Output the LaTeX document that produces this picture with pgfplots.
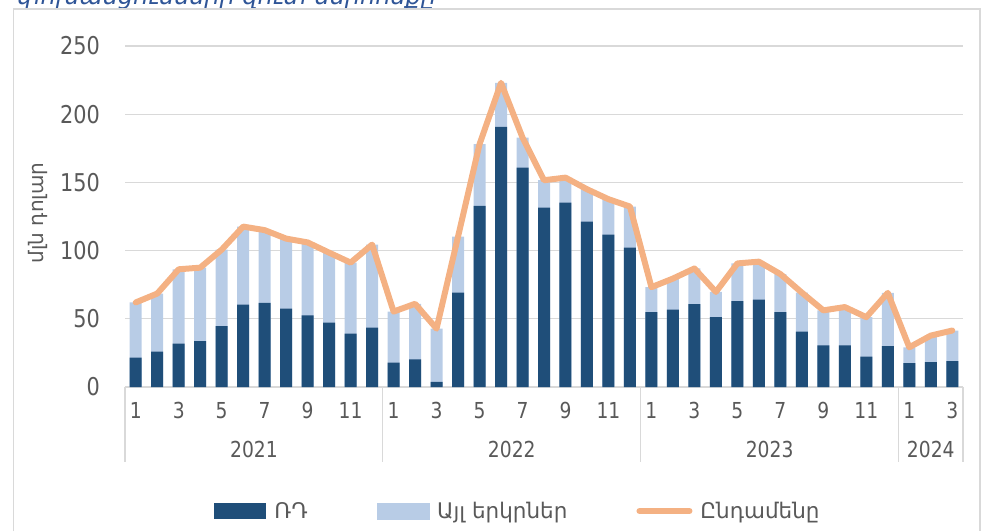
\documentclass[border=0pt]{standalone}
\usepackage{fontspec}
\setmainfont{DejaVu Sans}[FakeStretch=0.85]
\newfontfamily\legfont{DejaVu Sans}
\usepackage{pgfplots}
\usepackage{pgfplotstable}
\pgfplotsset{compat=1.18}
\definecolor{rdblue}{HTML}{1F4E79}
\definecolor{othblue}{HTML}{B8CCE6}
\definecolor{totorange}{HTML}{F4B183}
\definecolor{gridgray}{HTML}{D9D9D9}
\definecolor{txtgray}{HTML}{595959}
\definecolor{titleblue}{HTML}{2F5597}
\pgfplotstableread{
x rd total
0 21.5 62.0
1 26.0 68.5
2 31.8 86.3
3 33.7 87.5
4 44.7 100.7
5 60.4 117.6
6 61.6 115.0
7 57.5 108.8
8 52.6 106.0
9 47.2 98.5
10 39.1 91.2
11 43.5 104.4
12 17.8 55.3
13 20.3 61.0
14 3.7 42.8
15 69.2 110.3
16 132.8 178.0
17 190.7 223.0
18 160.9 182.9
19 131.5 151.6
20 135.2 153.5
21 121.3 145.0
22 111.7 137.7
23 102.2 132.3
24 54.9 73.2
25 56.7 79.5
26 60.8 86.9
27 51.2 69.7
28 63.0 90.6
29 64.0 91.9
30 54.9 82.8
31 40.6 69.2
32 30.5 56.2
33 30.5 58.6
34 22.2 51.2
35 30.0 69.0
36 17.5 29.1
37 18.2 37.7
38 19.0 41.4
}\datatable
\newcommand{\ylbl}{\fontsize{24.5}{28}\selectfont}
\newcommand{\xlbl}{\fontsize{22}{26}\selectfont}
\begin{document}
\begin{tikzpicture}
\useasboundingbox (0,0) rectangle (985pt,531pt);
\begin{scope}
\clip (0,0) rectangle (985pt,531pt);
\node[anchor=base west, inner sep=0pt, text=titleblue, font=\legfont\fontsize{24}{28}\selectfont\itshape] at (17pt,526.5pt) {փոխանցումների զուտ ներհոսքը};
\end{scope}
\draw[gridgray, line width=1.3pt] (13.5pt,0) -- (13.5pt,522pt) -- (980pt,522pt) -- (980pt,0);
\begin{axis}[
  at={(125pt,144pt)}, anchor=south west,
  scale only axis, width=838pt, height=341pt,
  xmin=-0.5, xmax=38.5, ymin=0, ymax=250,
  clip=false,
  axis line style={draw=none},
  major tick length=0pt,
  ytick={0,50,...,250},
  ymajorgrids, grid style={draw=gridgray, line width=1.3pt},
  xtick={0,2,...,38},
  xticklabels={1,3,5,7,9,11,1,3,5,7,9,11,1,3,5,7,9,11,1,3},
  /pgf/number format/assume math mode=true,
  tick label style={text=txtgray, inner sep=0pt},
  yticklabel style={font=\ylbl, anchor=east, xshift=-25pt},
  xticklabel style={font=\xlbl, anchor=north, yshift=-15pt},
  legend columns=3,
  legend style={at={(0.469,-0.3636)}, anchor=center, draw=none, fill=none,
    font=\legfont\fontsize{21.5}{26}\selectfont, text=txtgray, inner sep=0pt,
    /tikz/every odd column/.append style={column sep=6pt},
    /tikz/every even column/.append style={column sep=67pt}},
  legend cell align=left,
]
\addplot[ybar, bar width=12pt, bar shift=0pt, fill=othblue, draw=none, forget plot] table[x=x, y=total] {\datatable};
\addplot[ybar, bar width=12pt, bar shift=0pt, fill=rdblue, draw=none,
  legend image code/.code={\fill[rdblue] (0pt,-8pt) rectangle (52pt,8pt);}] table[x=x, y=rd] {\datatable};
\addlegendentry{ՌԴ}
\addlegendimage{legend image code/.code={\fill[othblue] (0pt,-8pt) rectangle (52pt,8pt);}}
\addlegendentry{Այլ երկրներ}
\addplot[totorange, line width=6pt, line join=round, line cap=round, mark=none,
  legend image code/.code={\path[draw=none,fill=none] (0pt,-8pt) rectangle (56pt,8pt);\draw[totorange, line width=6pt, line cap=round] (3pt,0pt) -- (53pt,0pt);}] table[x=x, y=total] {\datatable};
\addlegendentry{Ընդամենը}
\foreach \s in {-0.5,11.5,23.5,35.5,38.5}{
  \edef\tmp{\noexpand\draw[gridgray, line width=1.3pt] (axis cs:\s,0) -- ++(0pt,-75pt);}\tmp
}
\node[font=\xlbl, text=txtgray, inner sep=0pt] at ([yshift=-62pt]axis cs:5.5,0) {2021};
\node[font=\xlbl, text=txtgray, inner sep=0pt] at ([yshift=-62pt]axis cs:17.5,0) {2022};
\node[font=\xlbl, text=txtgray, inner sep=0pt] at ([yshift=-62pt]axis cs:29.5,0) {2023};
\node[font=\xlbl, text=txtgray, inner sep=0pt] at ([yshift=-62pt]axis cs:37,0) {2024};
\end{axis}
\node[rotate=90, font=\legfont\fontsize{20}{24}\selectfont, text=txtgray, inner sep=0pt] at (38pt,318pt) {մլն դոլար};
\end{tikzpicture}
\end{document}
